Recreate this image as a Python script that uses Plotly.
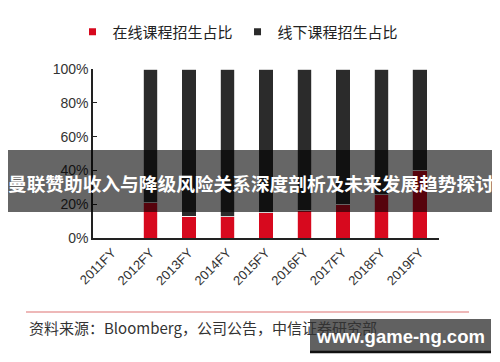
import plotly.graph_objects as go

categories = ["2011FY", "2012FY", "2013FY", "2014FY", "2015FY", "2016FY", "2017FY", "2018FY", "2019FY"]
online_share = [0, 21, 13, 12.6, 15, 16.5, 20, 25.5, 40]
offline_share = [0, 79, 87, 87.4, 85, 83.5, 80, 74.5, 60]
y_ticks = [0, 20, 40, 60, 80, 100]
y_tick_labels = ["0%", "20%", "40%", "60%", "80%", "100%"]

RED = "#d7091e"
DARK = "#2b2b2b"
CJK = "Noto Sans CJK SC, Liberation Sans, Arial, sans-serif"
LAT = "Liberation Sans, Arial, sans-serif"

# page offset from default body margin
OFF = 8
W, H = 500 - OFF, 362 - OFF
# plot area geometry in page pixels
L, R, T, B = 93, 439, 69, 238
def px(x):
    return (x - L) / (R - L)
def py(y):
    return (B - y) / (B - T)

fig = go.Figure()
fig.add_bar(x=categories, y=online_share, marker=dict(color=RED, line=dict(color="white", width=0.8)),
            showlegend=False, name="在线课程招生占比")
fig.add_bar(x=categories, y=offline_share, marker=dict(color=DARK, line=dict(color="white", width=0.8)),
            showlegend=False, name="线下课程招生占比")
# legend entries with small square markers
fig.add_scatter(x=[None], y=[None], mode="markers", marker=dict(symbol="square", size=7, color=RED),
                name="在线课程招生占比")
fig.add_scatter(x=[None], y=[None], mode="markers", marker=dict(symbol="square", size=7, color=DARK),
                name="线下课程招生占比")

shapes = [
    # title overlay band
    dict(type="rect", xref="paper", yref="paper", x0=px(3), x1=px(498), y0=py(212), y1=py(150),
         fillcolor="rgba(0,0,0,0.6)", line=dict(width=0), layer="above"),
    # source separator line
    dict(type="line", xref="paper", yref="paper", x0=px(26), x1=px(469), y0=py(312), y1=py(312),
         line=dict(color="#e8a0a0", width=1.5)),
    # watermark box
    dict(type="rect", xref="paper", yref="paper", x0=px(310), x1=px(491), y0=py(353), y1=py(319),
         fillcolor="rgba(0,0,0,0.62)", line=dict(width=0), layer="above"),
    dict(type="line", xref="paper", yref="paper", x0=px(310), x1=px(491), y0=py(352), y1=py(352),
         line=dict(color="#111111", width=2.5), layer="above"),
]

annotations = [
    dict(text="<b>曼联赞助收入与降级风险关系深度剖析及未来发展趋势探讨</b>", xref="paper", yref="paper",
         x=px(251), y=py(182), xanchor="center", yanchor="middle", showarrow=False,
         font=dict(family=CJK, size=18.7, color="white")),
    dict(text="资料来源：Bloomberg，公司公告，中信证券研究部", xref="paper", yref="paper",
         x=px(27), y=py(327), xanchor="left", yanchor="middle", showarrow=False,
         font=dict(family=CJK, size=15, color="#333333")),
    dict(text="<b>www.game-ng.com</b>", xref="paper", yref="paper",
         x=px(400), y=py(336), xanchor="center", yanchor="middle", showarrow=False,
         font=dict(family=LAT, size=18.5, color="white")),
]

fig.update_layout(
    width=W, height=H,
    barmode="stack", bargap=0.62,
    margin=dict(l=L - OFF, r=W - (R - OFF), t=T - OFF, b=H - (B - OFF), autoexpand=False),
    paper_bgcolor="white", plot_bgcolor="white",
    font=dict(family=CJK, color="#333333"),
    showlegend=True,
    legend=dict(orientation="h", x=px(238), xanchor="center", y=py(32), yanchor="middle", traceorder="normal",
                font=dict(family=CJK, size=15, color="#222222"), itemwidth=30,
                bgcolor="rgba(0,0,0,0)"),
    shapes=shapes,
    annotations=annotations,
    xaxis=dict(type="category", range=[-0.5, 8.5], showline=True, linecolor="#222222", linewidth=2,
               ticks="", tickangle=-45, tickfont=dict(family=LAT, size=13, color="#333333"),
               showgrid=False, zeroline=False),
    yaxis=dict(range=[0, 100], tickmode="array", tickvals=y_ticks, ticktext=y_tick_labels,
               showline=True, linecolor="#222222",
               linewidth=1.5, ticks="inside", ticklen=4, tickcolor="#222222", showgrid=False, zeroline=False,
               tickfont=dict(family=LAT, size=14, color="#333333")),
)

fig.write_html("out.html")
